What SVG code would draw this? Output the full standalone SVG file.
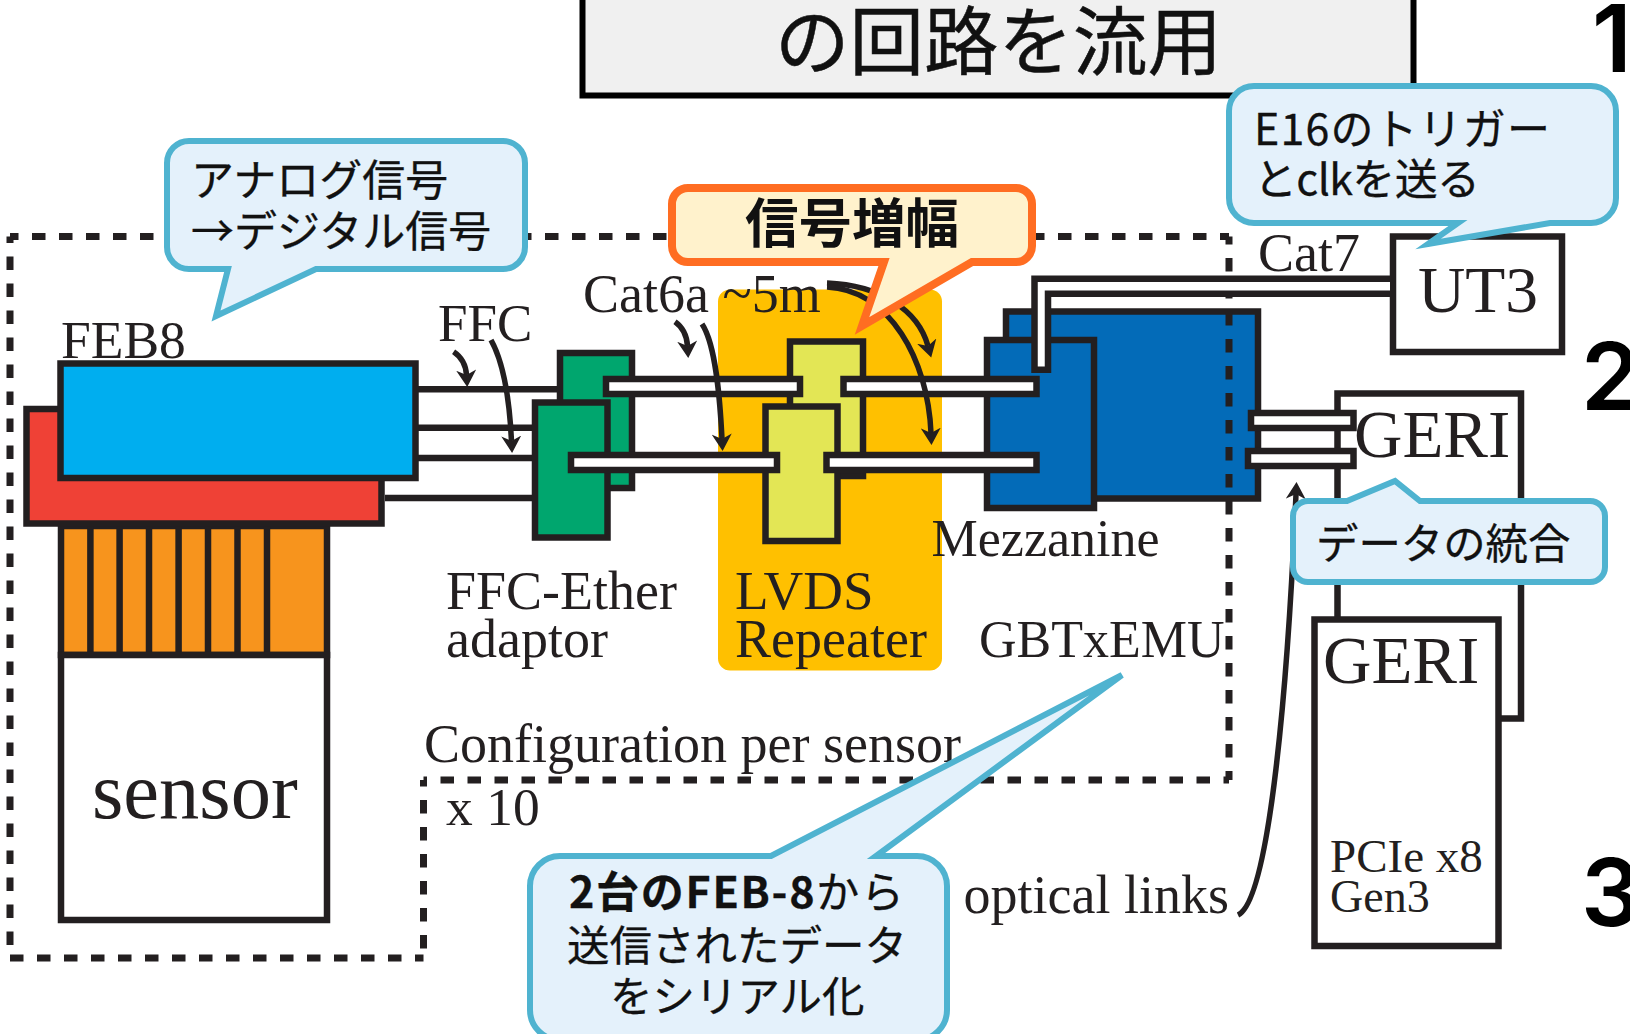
<svg xmlns="http://www.w3.org/2000/svg" width="1630" height="1034" viewBox="0 0 1630 1034">
<style>
.k{stroke:#231f20;stroke-width:6.5;stroke-linejoin:miter}
.w{fill:#fff}
.t{font-family:"Liberation Serif","Times New Roman",serif;fill:#231f20}
.j{font-family:"Noto Sans CJK JP","Noto Sans",sans-serif;fill:#111;font-size:43px;stroke:#111;stroke-width:.3}
.c{fill:#e4f1fb;stroke:#4fb3d0;stroke-width:6;stroke-linejoin:miter;stroke-miterlimit:10}
.a{fill:none;stroke:#231f20;stroke-width:5.5;marker-end:url(#ah)}
.n{font-family:Inter,"Liberation Sans",sans-serif;font-weight:600;font-size:94px;fill:#000}
.d{fill:none;stroke:#231f20;stroke-width:7;stroke-dasharray:13.5 13.5}
</style>
<defs>
<marker id="ah" markerUnits="userSpaceOnUse" markerWidth="18" markerHeight="20" refX="5" refY="10" orient="auto" viewBox="0 0 18 20"><path d="M17,10 L0,0 L5,10 L0,20Z" fill="#231f20"/></marker>
</defs>
<rect width="1630" height="1034" fill="#fff"/>
<g id="title"><rect x="582.500" y="-10" width="831" height="105.500" fill="#f0f0f0" stroke="#000" stroke-width="6"/><text x="775" y="69" font-family="Noto Sans CJK JP" font-size="74.500" fill="#111" stroke="#111" stroke-width=".5">の回路を流用</text></g>
<g id="numerals"><text class="n" x="1592" y="72">1</text><text class="n" x="1581" y="410">2</text><text class="n" x="1581" y="926">3</text></g>
<g id="lvds-bg"><rect x="718" y="289.500" width="224" height="381" rx="12" fill="#ffc000"/></g>
<g id="connectors-ffc" class="k" fill="none"><path d="M418,389.300H560M418,427.700H535M418,458H535M385,498H535"/></g>
<g id="sensor">
<rect x="61" y="526" width="266" height="129" fill="#f7941d" class="k"/>
<path class="k" fill="none" d="M90.400,526V655M119.600,526V655M149,526V655M178.600,526V655M208,526V655M237.500,526V655M267,526V655"/>
<rect x="61" y="655" width="266" height="265" class="k w"/>
<text class="t" x="92" y="818" font-size="80.500">sensor</text>
</g>
<g id="feb8">
<rect x="26.500" y="409" width="355" height="114.500" fill="#ef4136" class="k"/>
<rect x="60.500" y="363.500" width="355" height="114.500" fill="#00aeef" class="k"/>
<text class="t" x="61" y="358" font-size="53.500">FEB8</text>
</g>
<g id="adaptor">
<rect x="560" y="353" width="72" height="135" fill="#00a66e" class="k"/>
<rect x="535" y="402.500" width="72.500" height="135" fill="#00a66e" class="k"/>
</g>
<g id="repeater">
<rect x="790" y="341.500" width="73" height="134.500" fill="#e3e655" class="k"/>
<rect x="765.500" y="406.500" width="72" height="134.500" fill="#e3e655" class="k"/>
</g>
<g id="mezzanine">
<rect x="1006" y="311.500" width="252" height="187" fill="#036bb8" class="k"/>
<rect x="987" y="340" width="107" height="168" fill="#036bb8" class="k"/>
</g>
<g id="ut3"><rect x="1393" y="236.500" width="169" height="115.500" class="k w"/><text class="t" x="1418" y="311.500" font-size="65.500">UT3</text></g>
<g id="geri-back"><rect x="1337.500" y="393.500" width="183.500" height="325" class="k w"/><text class="t" x="1354" y="457" font-size="67">GERI</text></g>
<g id="geri-front"><rect x="1314.500" y="619.500" width="184" height="326.500" class="k w"/><text class="t" x="1323" y="682.500" font-size="67">GERI</text><text class="t" x="1330" y="871.500" font-size="47">PCIe x8</text><text class="t" x="1330" y="911.500" font-size="46">Gen3</text></g>
<g id="boundary">
<path class="d" d="M10,236.500H1229" stroke-dashoffset="5"/>
<path class="d" d="M10,236.500V958" stroke-dashoffset="7"/>
<path class="d" d="M1229,236.500V780" stroke-dashoffset="5.400"/>
<path class="d" d="M1229,780H423.500" stroke-dashoffset="8"/>
<path class="d" d="M423.500,780V958" stroke-dashoffset="7"/>
<path class="d" d="M10,958H423.500"/>
</g>
<g id="connectors">
<g class="k w">
<rect x="606" y="379" width="194" height="15"/>
<rect x="843.500" y="379" width="193" height="15"/>
<rect x="571" y="455" width="206" height="15"/>
<rect x="826.500" y="455" width="210" height="15"/>
<rect x="1251" y="413" width="102.500" height="15"/>
<rect x="1248" y="451" width="105.500" height="15"/>
<path d="M1390,278.700H1034.500V369.700H1048V293.700H1390"/>
</g>
<path class="a" d="M453.600,351.700C463,358 466,367 466.500,375"/>
<path class="a" d="M491,340C505,365 510,410 511.500,441"/>
<path class="a" d="M675,321.700C684,328 687,338 687.500,346"/>
<path class="a" d="M702,324C716,345 720,400 722,439"/>
<path class="a" d="M827,283C880,285 918,310 928,346"/>
<path class="a" d="M827,287C890,290 928,360 931,433"/>
<path class="a" d="M1238,915C1270,900 1288,680 1296,494"/>
</g>
<g id="labels" class="t">
<text x="438" y="340.500" font-size="53">FFC</text>
<text x="583" y="311.500" font-size="54">Cat6a ~5m</text>
<text x="446" y="609" font-size="54">FFC-Ether</text>
<text x="446" y="657" font-size="54">adaptor</text>
<text x="735" y="609" font-size="55">LVDS</text>
<text x="735" y="657" font-size="54">Repeater</text>
<text x="931.500" y="556" font-size="52">Mezzanine</text>
<text x="979" y="657" font-size="52">GBTxEMU</text>
<text x="424" y="761.500" font-size="54">Configuration per sensor</text>
<text x="446" y="825" font-size="53.500">x 10</text>
<text x="963.500" y="913" font-size="54">optical links</text>
<text x="1258" y="270.500" font-size="54">Cat7</text>
</g>
<g id="callout-adc"><path class="c" d="M189,141H503A22,22 0 0 1 525,163V247A22,22 0 0 1 503,269H316L216,316L228,269H189A22,22 0 0 1 167,247V163A22,22 0 0 1 189,141Z"/><text class="j" x="191" y="196">アナログ信号</text><text class="j" x="191" y="247">→デジタル信号</text></g>
<g id="callout-amp"><path d="M688,188H1016A16,16 0 0 1 1032,204V246A16,16 0 0 1 1016,262H972L862,326L884,262H688A16,16 0 0 1 672,246V204A16,16 0 0 1 688,188Z" fill="#fff2cc" stroke="#ff6d22" stroke-width="8" stroke-miterlimit="10"/><text x="745" y="243" font-family="Noto Sans CJK JP" font-size="53.500" font-weight="700" fill="#111">信号増幅</text></g>
<g id="callout-trigger"><path class="c" d="M1254,86H1591A25,25 0 0 1 1616,111V198A25,25 0 0 1 1591,223H1550L1428,244L1458,223H1254A25,25 0 0 1 1229,198V111A25,25 0 0 1 1254,86Z"/><text class="j" x="1254" y="145" textLength="296" lengthAdjust="spacing">E16のトリガー</text><text class="j" x="1254" y="195" textLength="226" lengthAdjust="spacing">とclkを送る</text></g>
<g id="callout-merge"><path class="c" d="M1308,501H1347L1395,481L1420,501H1590A15,15 0 0 1 1605,516V567A15,15 0 0 1 1590,582H1308A15,15 0 0 1 1293,567V516A15,15 0 0 1 1308,501Z"/><text class="j" x="1316" y="559" style="font-size:42.400px">データの統合</text></g>
<g id="callout-serial"><path class="c" d="M560,856H771L1122,675L876,856H917A30,30 0 0 1 947,886V1010A30,30 0 0 1 917,1040H560A30,30 0 0 1 530,1010V886A30,30 0 0 1 560,856Z"/><text class="j" x="569" y="908" textLength="335" lengthAdjust="spacing"><tspan font-weight="700">2台のFEB-8</tspan>から</text><text class="j" x="567" y="961" style="font-size:42.500px">送信されたデータ</text><text class="j" x="610" y="1012" style="font-size:42.500px">をシリアル化</text></g>
</svg>
